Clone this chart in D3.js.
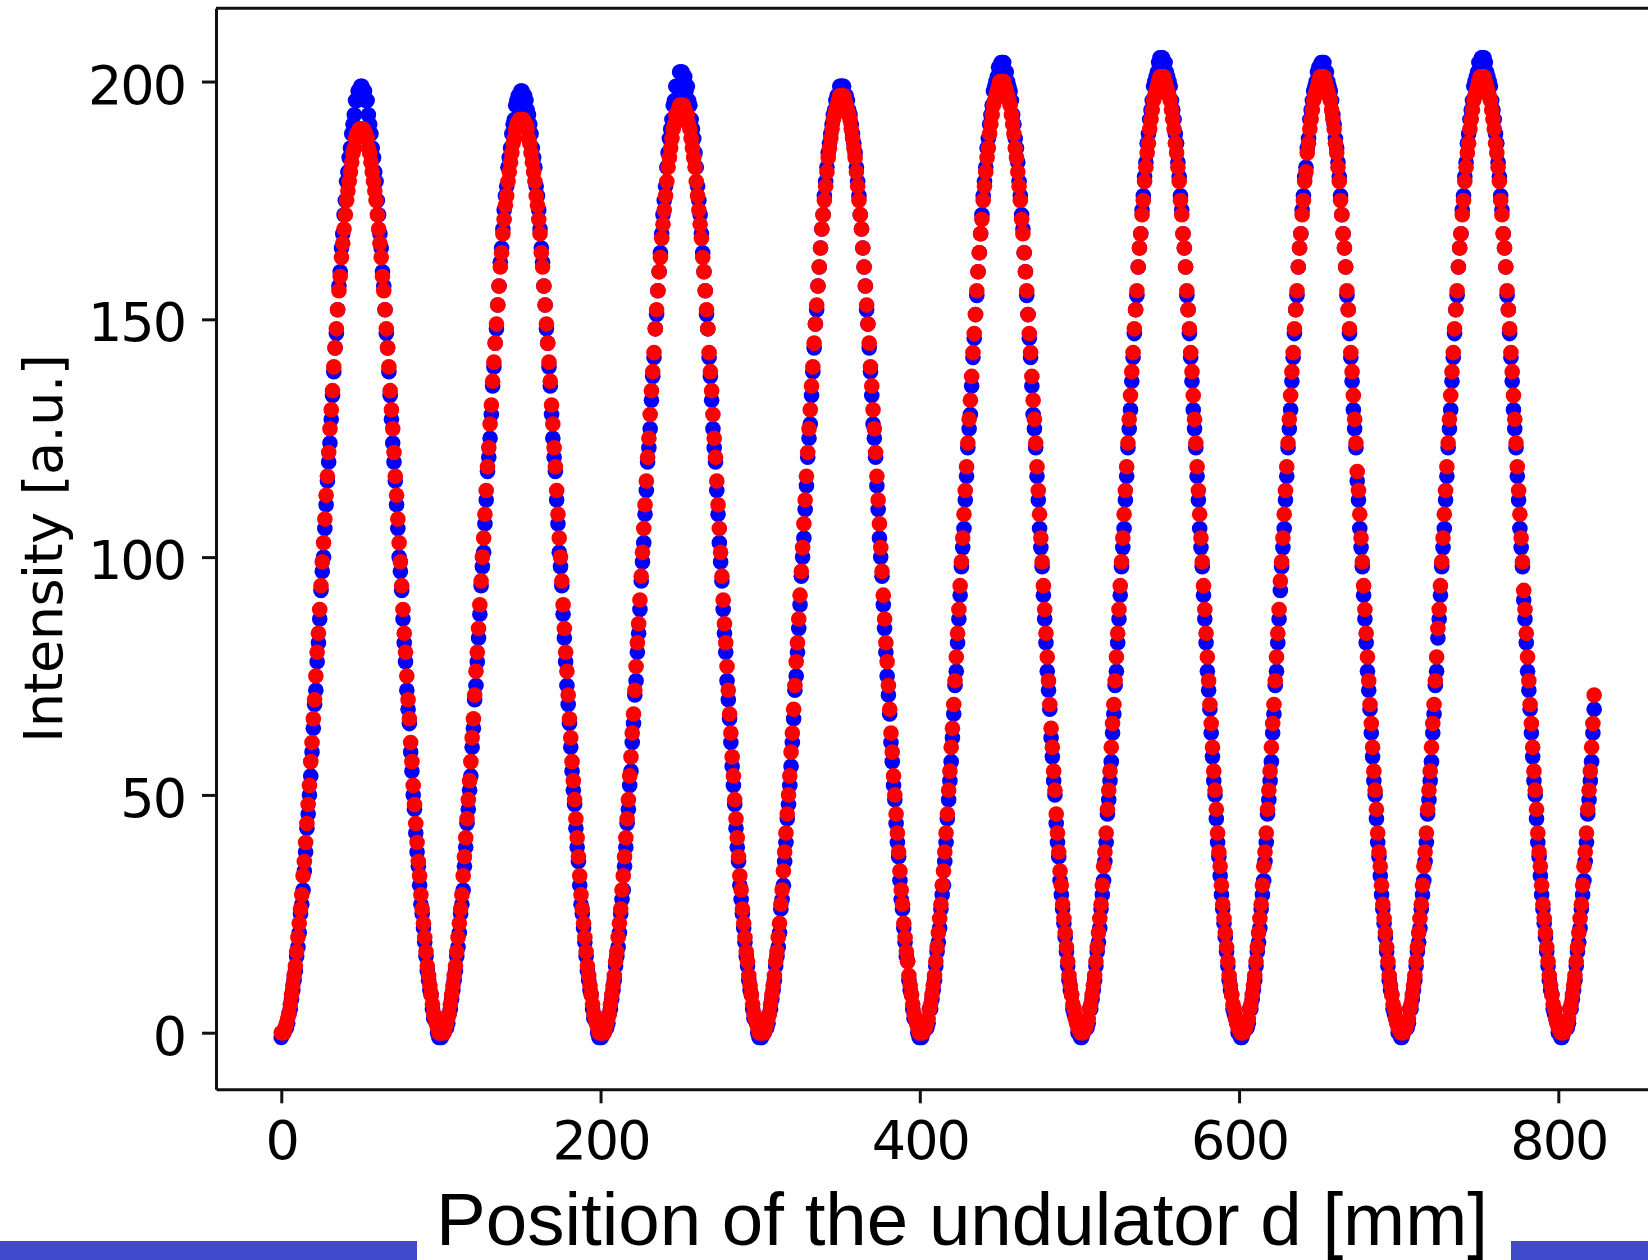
<!DOCTYPE html>
<html>
<head>
<meta charset="utf-8">
<script src="https://cdn.jsdelivr.net/npm/d3@7"></script>
<style>
html, body { margin: 0; padding: 0; background: #fff; overflow: hidden; }
svg { display: block; }
.axis text { font-family: "DejaVu Sans", sans-serif; font-size: 54px; fill: #000; letter-spacing: -2px; }
.axis path, .axis line { stroke: #111; stroke-width: 3; }
</style>
</head>
<body>
<svg id="chart" width="1648" height="1260"></svg>
<script>
// intensity, one row per half period
var redScan = [
  0,0,0,1,2,3,4,6,8,10,12,14,17,20,23,26,29,33,36,40,44,48,52,57,61,66,70,75,80,84,89,94,99,103,108,113,117,122,127,131,135,140,144,148,152,156,159,163,166,169,172,175,177,179,181,183,185,186,188,189,189,190,190,
  190,190,189,189,188,186,185,183,181,179,177,175,172,169,166,163,159,156,152,148,144,140,135,131,127,122,117,113,108,103,99,94,89,84,80,75,70,66,61,57,52,48,44,40,36,33,29,26,23,20,17,14,12,10,8,6,4,3,2,1,0,0,
  0,0,0,1,2,3,4,6,8,10,12,14,17,20,23,26,29,33,37,41,45,49,53,57,62,66,71,76,80,85,90,95,100,104,109,114,119,123,128,132,137,141,145,149,153,157,161,164,168,171,174,176,179,181,183,185,187,188,190,191,191,192,192,
  192,192,191,191,190,188,187,185,183,181,179,176,174,171,168,164,161,157,153,149,145,141,137,132,128,123,119,114,109,104,100,95,90,85,80,76,71,66,62,57,53,49,45,41,37,33,29,26,23,20,17,14,12,10,8,6,4,3,2,1,0,0,
  0,0,0,1,2,3,4,6,8,10,12,15,17,20,23,26,30,33,37,41,45,49,54,58,63,67,72,77,82,86,91,96,101,106,111,116,121,125,130,135,139,143,148,152,156,160,163,167,170,173,176,179,182,184,186,188,190,191,193,193,194,195,195,
  195,195,194,193,193,191,190,188,186,184,182,179,176,173,170,167,163,160,156,152,148,143,139,135,130,125,121,116,111,106,101,96,91,86,82,77,72,67,63,58,54,49,45,41,37,33,30,26,23,20,17,15,12,10,8,6,4,3,2,1,0,0,
  0,0,0,1,2,3,4,6,8,10,12,15,17,20,23,27,30,34,38,42,46,50,54,59,63,68,73,78,82,87,92,97,102,107,112,117,122,127,131,136,140,145,149,153,157,161,165,169,172,175,178,181,184,186,188,190,192,193,194,195,196,197,197,
  197,197,196,195,194,193,192,190,188,186,184,181,178,175,172,169,165,161,157,153,149,145,140,136,131,127,122,117,112,107,102,97,92,87,82,78,73,68,63,59,54,50,46,42,38,34,30,27,23,20,17,15,12,10,8,6,4,3,2,1,0,0,
  0,0,1,1,2,3,5,6,8,10,12,15,18,21,24,27,31,34,38,42,46,51,55,60,64,69,74,79,84,89,94,99,104,109,114,119,124,129,133,138,143,147,151,156,160,164,168,171,175,178,181,184,186,189,191,193,195,196,197,198,199,200,200,
  200,200,199,198,197,196,195,193,191,189,186,184,181,178,175,171,168,164,160,156,151,147,143,138,133,129,124,119,114,109,104,99,94,89,84,79,74,69,64,60,55,51,46,42,38,34,31,27,24,21,18,15,12,10,8,6,5,3,2,1,1,0,
  0,0,1,1,2,3,5,6,8,10,12,15,18,21,24,27,31,35,38,42,47,51,55,60,65,69,74,79,84,89,94,99,104,109,114,119,124,129,134,139,143,148,152,156,161,165,168,172,175,179,182,185,187,190,192,194,196,197,198,199,200,201,201,
  201,201,200,199,198,197,196,194,192,190,187,185,182,179,175,172,168,165,161,156,152,148,143,139,134,129,124,119,114,109,104,99,94,89,84,79,74,69,65,60,55,51,47,42,38,35,31,27,24,21,18,15,12,10,8,6,5,3,2,1,1,0,
  0,0,1,1,2,3,5,6,8,10,12,15,18,21,24,27,31,35,38,42,47,51,55,60,65,69,74,79,84,89,95,99,104,109,114,119,124,129,134,139,143,148,152,156,161,165,168,172,175,179,181,185,187,190,192,194,196,197,198,199,200,201,201,
  201,201,200,199,198,197,196,194,192,190,187,185,182,179,175,172,168,165,161,156,152,148,143,139,134,129,124,118,114,109,104,99,94,89,84,79,74,69,65,60,55,51,47,42,38,35,31,27,24,21,18,15,12,10,8,6,5,3,2,1,1,0,
  0,0,1,1,2,3,5,6,8,10,12,15,18,21,24,27,31,35,38,42,47,51,55,60,65,69,74,79,85,89,94,99,104,109,114,119,124,129,134,139,143,148,152,156,161,165,168,172,175,179,182,185,187,190,192,194,196,197,198,199,200,201,201,
  201,201,200,199,198,197,196,194,192,190,187,185,182,179,175,172,168,165,161,156,152,148,143,139,134,129,124,119,114,109,104,99,93,89,84,79,74,69,65,60,55,51,47,42,38,35,31,27,24,21,18,15,12,10,8,6,5,3,2,1,1,0,
  0,0,1,1,2,3,5,6,8,10,12,15,18,21,24,27,31,35,38,42,47,51,55,60,65,71
];
var blueScan = [
  -1,0,0,1,1,2,4,5,7,9,11,13,16,18,21,25,27,30,34,38,43,46,50,54,59,64,69,72,78,82,87,93,97,100,106,111,116,120,124,129,134,139,144,147,152,157,160,165,168,172,175,179,181,184,186,189,191,193,196,196,198,198,199,
  199,198,198,196,196,193,191,189,186,184,181,179,175,172,168,165,160,157,152,147,144,139,134,129,124,120,116,111,106,100,97,93,87,82,78,72,68,65,59,55,50,47,42,38,35,31,27,25,22,19,16,13,11,9,8,5,3,3,2,0,-1,-1,
  -1,0,0,1,1,2,4,5,7,9,11,13,16,18,21,25,27,30,35,39,44,47,51,54,60,64,70,73,78,83,88,94,98,101,107,112,118,121,125,130,136,140,145,148,153,157,162,165,169,173,176,178,182,184,186,189,191,192,195,196,197,197,198,
  198,197,197,196,194,193,191,189,186,184,182,178,176,173,169,165,162,157,153,148,145,140,136,130,125,121,118,112,107,101,98,94,88,83,78,73,69,65,60,55,51,48,43,39,36,31,27,25,22,19,16,13,11,9,8,5,3,3,2,0,-1,-1,
  -1,0,0,1,1,2,4,5,7,9,11,14,16,18,21,25,28,30,35,39,44,47,52,55,61,65,71,74,80,84,89,95,99,103,109,114,120,123,127,133,138,142,148,151,156,160,164,168,172,175,178,182,185,188,190,192,195,196,199,199,199,202,202,
  202,201,201,198,199,196,195,192,190,188,185,182,178,175,172,168,164,160,156,151,148,142,138,133,127,123,120,114,109,103,99,95,89,84,80,74,70,66,61,56,52,48,43,39,36,31,28,25,22,19,16,14,11,9,8,5,3,3,2,0,-1,-1,
  -1,0,0,1,1,2,4,5,7,9,11,14,16,18,21,26,28,31,36,40,45,48,52,56,61,66,72,75,80,85,90,96,100,104,110,115,121,125,128,134,139,144,149,152,157,161,165,169,172,176,179,182,185,187,189,191,193,194,196,197,197,199,199,
  199,199,197,197,196,194,193,191,189,187,185,182,179,176,172,169,165,161,157,152,149,144,139,134,128,125,121,115,110,104,100,96,90,85,80,75,71,67,61,57,52,49,44,40,37,32,28,26,22,19,16,15,11,9,8,5,3,3,2,0,-1,-1,
  -1,0,1,1,1,2,5,5,7,9,11,14,17,19,22,26,29,31,36,40,45,49,53,57,62,67,73,76,82,87,92,98,102,106,112,117,123,127,130,136,142,146,151,155,160,164,168,172,176,179,182,186,188,191,193,195,198,199,200,201,203,203,204,
  204,204,202,202,200,199,198,196,193,191,188,186,183,179,176,172,169,164,160,155,151,146,142,136,130,127,123,117,112,106,102,98,92,87,82,76,72,68,62,58,53,50,44,40,37,32,29,26,23,20,17,14,11,9,8,5,4,3,2,0,0,-1,
  -1,0,1,1,1,2,5,5,7,9,11,14,17,19,22,26,29,32,36,40,46,49,53,57,63,67,73,76,82,87,92,98,102,106,112,117,123,127,131,137,142,147,152,155,161,165,168,173,176,180,183,187,189,192,194,196,199,200,201,202,204,205,205,
  205,204,204,202,201,200,199,196,194,192,189,187,183,180,176,173,168,165,161,155,152,147,142,137,131,127,123,117,112,106,102,98,92,87,82,76,72,68,63,58,53,50,45,40,37,33,29,26,23,20,17,14,11,9,8,5,4,3,2,0,0,-1,
  -1,0,1,1,1,2,5,5,7,9,11,14,17,19,22,26,29,32,36,40,46,49,53,57,63,67,73,76,82,87,93,98,102,106,112,117,123,127,131,137,142,147,152,155,161,165,168,173,176,180,182,186,188,192,194,196,198,199,200,202,203,203,204,
  204,204,202,202,200,199,198,196,193,191,188,186,183,180,176,172,168,165,161,155,152,147,142,137,131,127,123,116,112,106,102,98,92,87,82,76,72,68,63,58,53,50,45,40,37,33,29,26,23,20,17,14,11,9,8,5,4,3,2,0,0,-1,
  -1,0,1,1,1,2,5,5,7,9,11,14,17,19,22,26,29,32,36,40,46,49,53,57,63,67,73,76,83,87,92,98,102,106,112,117,123,127,131,137,142,147,152,155,161,165,168,173,176,180,183,187,189,192,194,196,199,200,201,202,204,204,205,
  205,205,204,202,201,200,199,196,194,192,189,187,183,180,176,173,168,165,161,155,152,147,142,137,131,127,123,117,112,106,102,98,91,87,82,76,72,68,63,58,53,50,45,40,37,33,29,26,23,20,17,14,11,9,8,5,4,3,2,0,0,-1,
  -1,0,1,1,1,2,5,5,7,9,11,14,17,19,22,26,29,32,36,40,46,49,53,57,63,68
];
var scanStep = 0.8024; // mm between two samples of the scan
var xTicks = [0, 200, 400, 600, 800];
var yTicks = [0, 50, 100, 150, 200];
var xTitle = 'Position of the undulator d [mm]';
var yTitle = 'Intensity [a.u.]';

(function(){
var _svg = d3.select('#chart'),
  _x = d3.scaleLinear().domain([-40.9, 859]).range([216, 1652.5]),
  _y = d3.scaleLinear().domain([-11.9, 215.4]).range([1089.3, 8.3]),
  points = function(values){
    return values.map(function(v, i){ return {d: i * scanStep, v: v}; });
  },
  drawDots = function(values, color, cls){
    _svg.append('g').attr('class', cls)
      .selectAll('circle').data(points(values)).enter().append('circle')
      .attr('cx', function(p){ return _x(p.d); })
      .attr('cy', function(p){ return _y(p.v); })
      .attr('r', 7.8)
      .attr('fill', color);
  },
  drawAxes = function(){
    var gy = _svg.append('g').attr('class', 'axis')
      .attr('transform', 'translate(' + _x.range()[0] + ',0)')
      .call(d3.axisLeft(_y).tickValues(yTicks).tickSize(14).tickSizeOuter(0).tickPadding(17));
    gy.selectAll('text').attr('dy', '0.4em');
    _svg.append('g').attr('class', 'axis')
      .attr('transform', 'translate(0,' + _y.range()[0] + ')')
      .call(d3.axisBottom(_x).tickValues(xTicks).tickSize(14).tickSizeOuter(0).tickPadding(17));
    // top and right spines
    _svg.append('g').attr('class', 'axis').append('path')
      .attr('fill', 'none')
      .attr('d', 'M' + _x.range()[0] + ',' + _y.range()[1] + 'H' + _x.range()[1] + 'V' + _y.range()[0]);
  },
  drawTitles = function(){
    _svg.append('text')
      .attr('transform', 'translate(62,' + d3.mean(_y.range()) + ') rotate(-90)')
      .attr('text-anchor', 'middle')
      .style('font-family', '"DejaVu Sans", sans-serif').style('font-size', '54px')
      .style('letter-spacing', '-0.5px')
      .text(yTitle);
    _svg.append('text')
      .attr('x', 962).attr('y', 1245)
      .attr('text-anchor', 'middle')
      .style('font-family', '"Liberation Sans", Arial, sans-serif').style('font-size', '74.5px')
      .text(xTitle);
    // slide footer bars either side of the title
    _svg.append('rect').attr('x', 0).attr('y', 1241).attr('width', 417).attr('height', 19).attr('fill', '#4049c9');
    _svg.append('rect').attr('x', 1511).attr('y', 1241).attr('width', 137).attr('height', 19).attr('fill', '#4049c9');
  };
drawDots(blueScan, '#0000ff', 'blue');
drawDots(redScan, '#ff0000', 'red');
drawAxes();
drawTitles();
})();
</script>
</body>
</html>
